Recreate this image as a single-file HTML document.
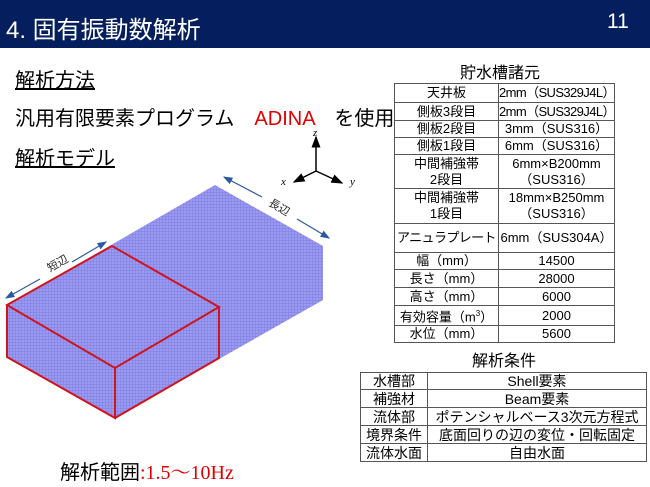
<!DOCTYPE html>
<html><head><meta charset="utf-8"><style>
body{margin:0;width:650px;height:487px;background:#fff;position:relative;overflow:hidden;font-family:"Liberation Sans","Noto Sans CJK JP",sans-serif;}
.hdr{position:absolute;left:0;top:0;width:650px;height:48px;background:#041e5e;color:#fff;}
.t{position:absolute;white-space:nowrap;}
table{position:absolute;border-collapse:collapse;font-size:13px;table-layout:fixed;}
td{border:1px solid #555;text-align:center;padding:0;line-height:16px;white-space:nowrap;overflow:hidden;}
.n{letter-spacing:-0.6px;}
</style></head><body>
<div class="hdr"><div class="t" style="left:6px;top:10px;font-size:24px;">4. 固有振動数解析</div><div class="t" style="left:607px;top:10px;font-size:21px;">11</div></div>
<div class="t" style="left:15px;top:64px;font-size:20px;text-decoration:underline;">解析方法</div>
<div class="t" style="left:15px;top:102px;font-size:20px;">汎用有限要素プログラム　<span style="color:#e00000">ADINA</span>　を使用</div>
<div class="t" style="left:15px;top:142px;font-size:20px;text-decoration:underline;">解析モデル</div>
<div class="t" style="left:60px;top:456px;font-size:20px;">解析範囲<span style="color:#d00;font-family:'Liberation Serif','Noto Serif CJK SC',serif;">:1.5～10Hz</span></div>
<svg style="position:absolute;left:0;top:0" width="650" height="487">
<defs><pattern id="m" width="3" height="3" patternUnits="userSpaceOnUse"><rect width="3" height="3" fill="#9a9af2"/><path d="M0 0H3M0 0V3" stroke="#7474d6" stroke-width="0.7"/></pattern>
<marker id="a" markerWidth="8" markerHeight="6" refX="7" refY="3" orient="auto"><path d="M0,0L8,3L0,6z" fill="#2a5ba0"/></marker>
<marker id="k" markerWidth="8" markerHeight="6" refX="7" refY="3" orient="auto"><path d="M0,0L8,3L0,6z" fill="#000"/></marker></defs>
<polygon points="7,305 215,185 323,246 323,300 115,418 7,357" fill="url(#m)"/>
<polygon points="7,305 112,246 219,307 115,368" fill="none" stroke="#d0141e" stroke-width="2"/>
<polyline points="7,305 7,357 115,418 115,368" fill="none" stroke="#d0141e" stroke-width="2"/>
<polyline points="219,307 219,358 115,418" fill="none" stroke="#d0141e" stroke-width="2"/>
<g stroke="#2a5ba0" stroke-width="1.2">
<line x1="40" y1="279" x2="6" y2="298" marker-end="url(#a)"/><line x1="72" y1="262" x2="106" y2="242" marker-end="url(#a)"/>
<line x1="262" y1="197" x2="224" y2="177" marker-end="url(#a)"/><line x1="297" y1="219" x2="329" y2="238" marker-end="url(#a)"/>
</g>
<text x="50" y="272" font-size="11" transform="rotate(-30 50 272)" fill="#222">短辺</text>
<text x="268" y="205" font-size="11" transform="rotate(30 268 205)" fill="#222">長辺</text>
<g stroke="#000" stroke-width="1.5"><line x1="316" y1="171" x2="316" y2="137" marker-end="url(#k)"/><line x1="316" y1="171" x2="294" y2="182" marker-end="url(#k)"/><line x1="316" y1="171" x2="342" y2="183" marker-end="url(#k)"/></g>
<g font-family="Liberation Serif,serif" font-style="italic" font-size="11"><text x="313" y="136">z</text><text x="281" y="185">x</text><text x="350" y="185">y</text></g>
</svg>
<div class="t" style="left:460px;top:59px;font-size:16px;">貯水槽諸元</div>
<table style="left:394px;top:83px;width:220px;">
<colgroup><col style="width:104px"><col style="width:116px"></colgroup>
<tr style="height:19px"><td>天井板</td><td class="n">2mm（SUS329J4L）</td></tr>
<tr style="height:18px"><td>側板3段目</td><td class="n">2mm（SUS329J4L）</td></tr>
<tr style="height:17px"><td>側板2段目</td><td>3mm（SUS316）</td></tr>
<tr style="height:17px"><td>側板1段目</td><td>6mm（SUS316）</td></tr>
<tr style="height:34px"><td>中間補強帯<br>2段目</td><td>6mm×B200mm<br>（SUS316）</td></tr>
<tr style="height:35px"><td>中間補強帯<br>1段目</td><td>18mm×B250mm<br>（SUS316）</td></tr>
<tr style="height:29px"><td class="n">アニュラプレート</td><td>6mm（SUS304A）</td></tr>
<tr style="height:16px"><td>幅（mm）</td><td>14500</td></tr>
<tr style="height:18px"><td>長さ（mm）</td><td>28000</td></tr>
<tr style="height:18px"><td>高さ（mm）</td><td>6000</td></tr>
<tr style="height:17px"><td>有効容量（m<sup style="font-size:8px">3</sup>）</td><td>2000</td></tr>
<tr style="height:17px"><td>水位（mm）</td><td>5600</td></tr>
</table>
<div class="t" style="left:472px;top:347px;font-size:16px;">解析条件</div>
<table style="left:360px;top:372px;width:286px;font-size:14px;">
<colgroup><col style="width:67px"><col style="width:219px"></colgroup>
<tr style="height:17px"><td>水槽部</td><td>Shell要素</td></tr>
<tr style="height:18px"><td>補強材</td><td>Beam要素</td></tr>
<tr style="height:18px"><td>流体部</td><td>ポテンシャルベース3次元方程式</td></tr>
<tr style="height:18px"><td>境界条件</td><td>底面回りの辺の変位・回転固定</td></tr>
<tr style="height:18px"><td>流体水面</td><td>自由水面</td></tr>
</table>
</body></html>
